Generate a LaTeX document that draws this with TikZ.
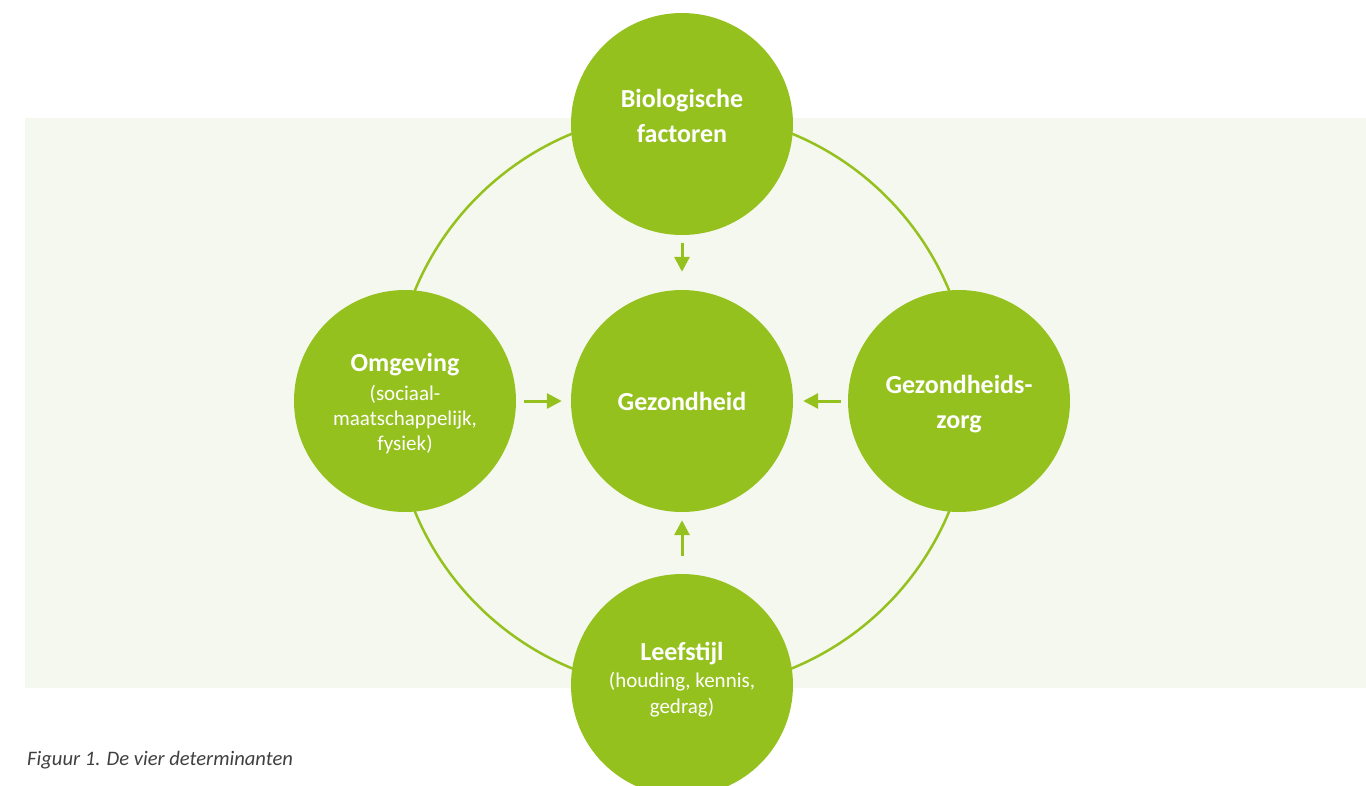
\documentclass[tikz,border=0pt]{standalone}
\usepackage{fontspec}
\setmainfont{Carlito}
\usetikzlibrary{arrows.meta}
\definecolor{leaf}{HTML}{95C11F}
\definecolor{bgpale}{HTML}{F5F8EE}
\definecolor{captiongrey}{HTML}{404040}
\begin{document}
\begin{tikzpicture}[x=1pt,y=-1pt,
  det/.style={circle, fill=leaf, draw=none, minimum size=222pt, inner sep=0pt},
  ringstyle/.style={circle, draw=leaf, line width=2.5pt, minimum size=578pt, inner sep=0pt},
  ttl/.style={text=white, align=center, anchor=base, inner sep=0pt, font=\fontsize{26}{35}\selectfont\bfseries},
  sub/.style={text=white, align=center, anchor=base, inner sep=0pt, font=\fontsize{21}{25}\selectfont},
  arr/.style={draw=leaf, line width=3pt, -{Triangle[length=15pt,width=15pt]}},
]
\useasboundingbox (0,0) rectangle (1366,785);
\fill[bgpale] (25,118) rectangle (1366,688);

\node[ringstyle] (ring) at (682,401) {};

\node[det] (bio) at (682,124) {};
\node[det] (omg) at (405,401) {};
\node[det] (gez) at (682,401) {};
\node[det] (zorg) at (959,401) {};
\node[det] (leef) at (682,685) {};

% base anchor = baseline of the last line
\node[ttl] (bioT) at (682,142) {Biologische\\factoren};
\node[sub] (omgT) at (405,450) {{\fontsize{26}{29}\selectfont\bfseries Omgeving}\\[4pt](sociaal-\\maatschappelijk,\\fysiek)};
\node[ttl] (gezT) at (682,410) {Gezondheid};
\node[ttl] (zorgT) at (959,428) {Gezondheids-\\zorg};
\node[sub] (leefT) at (682,713) {{\fontsize{26}{29}\selectfont\bfseries Leefstijl}\\[2pt](houding, kennis,\\[1pt]gedrag)};

\draw[arr, shorten <=8pt, shorten >=18pt] (bio) -- (gez);
\draw[arr, shorten <=8pt, shorten >=9pt] (omg) -- (gez);
\draw[arr, shorten <=7pt, shorten >=10pt] (zorg) -- (gez);
\draw[arr, shorten <=18pt, shorten >=8pt] (leef) -- (gez);

\node[anchor=base west, inner sep=0pt, text=captiongrey, font=\fontsize{20.6}{24}\selectfont\itshape] (cap) at (27,765) {Figuur 1. De vier determinanten};
\end{tikzpicture}
\end{document}
